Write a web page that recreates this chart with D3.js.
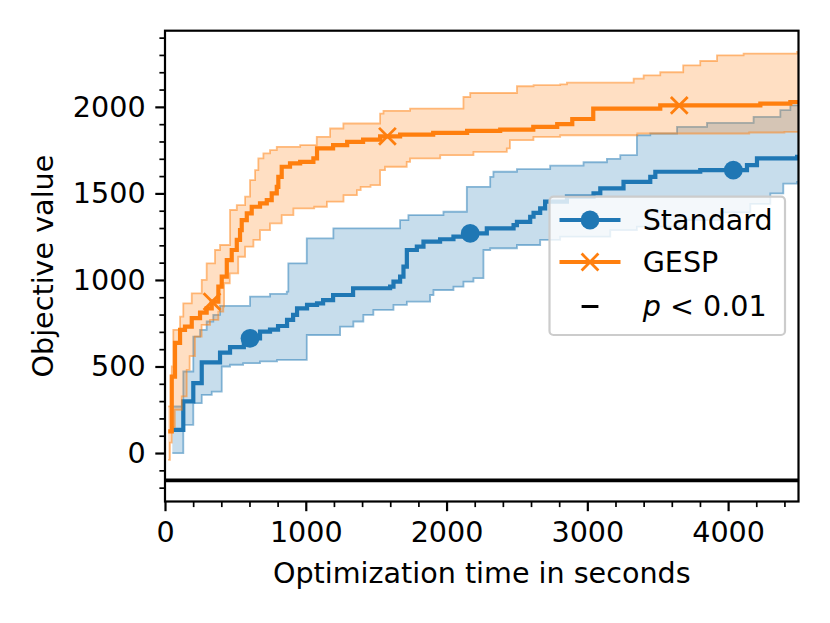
<!DOCTYPE html>
<html>
<head>
<meta charset="utf-8">
<script src="https://cdn.jsdelivr.net/npm/d3@7"></script>
<style>
    html, body { margin: 0; padding: 0; background: #fff; }
    svg text { font-family: 'DejaVu Sans', sans-serif; fill: #000; }
</style>
</head>
<body>
<svg id="chart" width="830" height="623"></svg>
<script>
// step points [seconds, objective value]
const standardMean = [
    [52, 134], [130, 298], [201, 404], [261, 524], [391, 580], [462, 612], [560, 640], [600, 663],
    [675, 702], [746, 713], [803, 734], [867, 769], [910, 798], [938, 836], [1009, 856], [1080, 865],
    [1123, 884], [1194, 913], [1336, 952], [1599, 961], [1623, 990], [1670, 1019], [1694, 1077],
    [1718, 1173], [1789, 1192], [1836, 1221], [1954, 1235], [2049, 1250], [2168, 1269], [2286, 1298],
    [2476, 1317], [2500, 1336], [2594, 1365], [2618, 1388], [2665, 1413], [2700, 1452], [2855, 1481],
    [3044, 1500], [3092, 1529], [3257, 1567], [3447, 1596], [3483, 1625], [3802, 1634], [4134, 1663],
    [4205, 1702], [4490, 1711]
]
const standardUpper = [
    [52, 269], [130, 471], [201, 673], [249, 711], [296, 760], [343, 798], [391, 850], [604, 904],
    [746, 919], [865, 933], [876, 1096], [1007, 1240], [1196, 1298], [1670, 1346], [1729, 1375],
    [1978, 1394], [2144, 1538], [2310, 1596], [2333, 1625], [2500, 1640], [2736, 1660], [2973, 1680],
    [3139, 1700], [3234, 1721], [3352, 1836], [3447, 1846], [3637, 1884], [3850, 1907], [4181, 1942],
    [4371, 1981], [4442, 2009]
]
const standardLower = [
    [52, 0], [130, 163], [201, 288], [261, 336], [332, 355], [403, 500], [462, 510], [555, 519],
    [675, 529], [796, 538], [1007, 682], [1244, 730], [1338, 760], [1409, 798], [1480, 827],
    [1623, 856], [1718, 875], [1883, 913], [1907, 942], [2049, 961], [2120, 990], [2191, 1010],
    [2262, 1173], [2310, 1183], [2500, 1202], [2665, 1231], [2807, 1250], [3163, 1288], [3352, 1308],
    [3684, 1346], [3945, 1390], [4158, 1440], [4300, 1500], [4392, 1557], [4490, 1567]
]
const gespMean = [
    [23, 125], [48, 442], [71, 636], [107, 712], [142, 730], [190, 779], [249, 811], [296, 836],
    [332, 875], [379, 961], [403, 1019], [439, 1115], [474, 1173], [510, 1231], [533, 1288],
    [545, 1346], [581, 1385], [616, 1423], [675, 1442], [723, 1461], [758, 1500], [794, 1538],
    [805, 1596], [829, 1654], [888, 1673], [960, 1682], [1054, 1702], [1080, 1760], [1194, 1779],
    [1294, 1798], [1407, 1811], [1528, 1830], [1670, 1840], [1905, 1850], [2146, 1861], [2381, 1869],
    [2616, 1884], [2786, 1900], [2893, 1930], [3042, 1990], [3518, 2009], [4229, 2019], [4442, 2028]
]
const gespUpper = [
    [23, 270], [48, 500], [59, 712], [107, 788], [130, 865], [190, 923], [261, 1000], [296, 1096],
    [355, 1173], [391, 1202], [462, 1404], [510, 1432], [569, 1481], [604, 1577], [640, 1634],
    [663, 1702], [699, 1731], [746, 1750], [794, 1769], [960, 1779], [1078, 1827], [1173, 1875],
    [1267, 1904], [1528, 1961], [1552, 1977], [1741, 1990], [2120, 2057], [2168, 2080], [2500, 2119],
    [2618, 2125], [2807, 2130], [2855, 2140], [3329, 2163], [3400, 2182], [3518, 2200], [3681, 2240],
    [3802, 2265], [3921, 2298], [4110, 2308], [4490, 2317]
]
const gespLower = [
    [23, -40], [35, 60], [48, 150], [70, 250], [119, 327], [154, 481], [175, 560], [213, 673],
    [260, 740], [320, 769], [379, 817], [414, 846], [420, 981], [460, 1038], [520, 1134], [569, 1192],
    [628, 1231], [675, 1288], [746, 1327], [829, 1375], [912, 1413], [1060, 1423], [1150, 1452],
    [1268, 1490], [1363, 1519], [1390, 1538], [1460, 1548], [1528, 1634], [1563, 1654], [1717, 1682],
    [1741, 1702], [1955, 1721], [2191, 1740], [2428, 1760], [2450, 1808], [2617, 1827], [2807, 1836],
    [3355, 1846], [4150, 1852], [4400, 1856]
]
const standardMarkers = [604, 2168, 4037]
const gespMarkers = [334, 1580, 3653]
const pSignificant = [[0, 4500]]
const sigLevel = -158

const xDomain = [0, 4500]
const yDomain = [-280, 2440]
const xMajor = [0, 1000, 2000, 3000, 4000]
const xMinor = [200, 400, 600, 800, 1200, 1400, 1600, 1800, 2200, 2400, 2600, 2800, 3200, 3400, 3600, 3800, 4200, 4400]
const yMajor = [0, 500, 1000, 1500, 2000]
const yMinor = [-200, -100, 100, 200, 300, 400, 600, 700, 800, 900, 1100, 1200, 1300, 1400, 1600, 1700, 1800, 1900, 2100, 2200, 2300, 2400]

const legendItems = [
    { label: 'Standard', color: '#1f77b4', marker: 'circle' },
    { label: 'GESP', color: '#ff7f0e', marker: 'x' },
    { label: 'p', rest: ' < 0.01', color: '#000', marker: 'dash' }
]

const fontSize = 28.6
const margin = { top: 30.7, right: 31.5, bottom: 121.5, left: 165 }
const width = 830
const height = 623

const svg = d3.select('#chart')
const x = d3.scaleLinear().domain(xDomain).range([margin.left, width - margin.right])
const y = d3.scaleLinear().domain(yDomain).range([height - margin.bottom, margin.top])

svg.append('defs').append('clipPath').attr('id', 'plot-clip')
    .append('rect')
    .attr('x', margin.left).attr('y', margin.top)
    .attr('width', width - margin.left - margin.right)
    .attr('height', height - margin.top - margin.bottom)

const plot = svg.append('g').attr('clip-path', 'url(#plot-clip)')

// step lookup
const bisect = d3.bisector((d) => d[0]).right
function valueAt(series, t) {
    const i = bisect(series, t) - 1
    return i < 0 ? null : series[i][1]
}
function extend(series) {
    return series.concat([[xDomain[1], series[series.length - 1][1]]])
}

function drawSeries(mean, lower, upper, color, markerTimes, marker) {
    const times = Array.from(new Set(lower.map((d) => d[0]).concat(upper.map((d) => d[0]), [xDomain[1]])))
        .sort((a, b) => a - b)
        .filter((t) => valueAt(lower, t) !== null && valueAt(upper, t) !== null)

    const area = d3.area()
        .curve(d3.curveStepAfter)
        .x((t) => x(t))
        .y0((t) => y(valueAt(lower, t)))
        .y1((t) => y(valueAt(upper, t)))

    plot.append('path')
        .datum(times)
        .attr('d', area)
        .attr('fill', color)
        .attr('fill-opacity', 0.25)
        .attr('stroke', 'none')

    const line = d3.line().curve(d3.curveStepAfter).x((d) => x(d[0])).y((d) => y(d[1]))

    ;[lower, upper].forEach((bound) => {
        plot.append('path')
            .datum(extend(bound))
            .attr('d', line)
            .attr('fill', 'none')
            .attr('stroke', color)
            .attr('stroke-opacity', 0.5)
            .attr('stroke-width', 1.8)
    })

    plot.append('path')
        .datum(extend(mean))
        .attr('d', line)
        .attr('fill', 'none')
        .attr('stroke', color)
        .attr('stroke-width', 4.2)

    const pts = markerTimes.map((t) => [t, valueAt(mean, t)])
    pts.forEach((p) => drawMarker(plot, marker, x(p[0]), y(p[1]), color))
}

function drawMarker(g, type, cx, cy, color) {
    if (type === 'circle') {
        g.append('circle').attr('cx', cx).attr('cy', cy).attr('r', 9.4).attr('fill', color)
    } else if (type === 'x') {
        const s = 8.4
        g.append('path')
            .attr('d', `M${cx - s},${cy - s}L${cx + s},${cy + s}M${cx - s},${cy + s}L${cx + s},${cy - s}`)
            .attr('stroke', color)
            .attr('stroke-width', 2.8)
            .attr('fill', 'none')
    } else {
        g.append('line')
            .attr('x1', cx - 8.4).attr('x2', cx + 8.4)
            .attr('y1', cy).attr('y2', cy)
            .attr('stroke', color)
            .attr('stroke-width', 3)
    }
}

drawSeries(standardMean, standardLower, standardUpper, '#1f77b4', standardMarkers, 'circle')
drawSeries(gespMean, gespLower, gespUpper, '#ff7f0e', gespMarkers, 'x')

// significance
pSignificant.forEach((iv) => {
    plot.append('line')
        .attr('x1', x(iv[0])).attr('x2', x(iv[1]))
        .attr('y1', y(sigLevel)).attr('y2', y(sigLevel))
        .attr('stroke', '#000')
        .attr('stroke-width', 3.6)
})

// axes
function styleAxis(g, major) {
    g.select('.domain').remove()
    g.selectAll('line').attr('stroke', '#000').attr('stroke-width', major ? 2.2 : 1.7)
    g.selectAll('text').style('font-size', fontSize + 'px').style('font-family', 'DejaVu Sans')
}

const xAxisG = svg.append('g')
    .attr('transform', `translate(0,${height - margin.bottom})`)
    .call(d3.axisBottom(x).tickValues(xMajor).tickSize(9.7).tickPadding(9.2).tickFormat(d3.format('d')))
styleAxis(xAxisG, true)
xAxisG.selectAll('text').attr('dy', '0.76em')

const xMinorG = svg.append('g')
    .attr('transform', `translate(0,${height - margin.bottom})`)
    .call(d3.axisBottom(x).tickValues(xMinor).tickSize(5.6).tickFormat(''))
styleAxis(xMinorG, false)

const yAxisG = svg.append('g')
    .attr('transform', `translate(${margin.left},0)`)
    .call(d3.axisLeft(y).tickValues(yMajor).tickSize(9.7).tickPadding(9.7).tickFormat(d3.format('d')))
styleAxis(yAxisG, true)

const yMinorG = svg.append('g')
    .attr('transform', `translate(${margin.left},0)`)
    .call(d3.axisLeft(y).tickValues(yMinor).tickSize(5.6).tickFormat(''))
styleAxis(yMinorG, false)

// frame
svg.append('rect')
    .attr('x', margin.left).attr('y', margin.top)
    .attr('width', width - margin.left - margin.right)
    .attr('height', height - margin.top - margin.bottom)
    .attr('fill', 'none')
    .attr('stroke', '#000')
    .attr('stroke-width', 2.2)

// labels
svg.append('text')
    .attr('x', (margin.left + width - margin.right) / 2)
    .attr('y', 583)
    .attr('text-anchor', 'middle')
    .style('font-size', fontSize + 'px')
    .text('Optimization time in seconds')

svg.append('text')
    .attr('transform', `translate(53,${(margin.top + height - margin.bottom) / 2}) rotate(-90)`)
    .attr('text-anchor', 'middle')
    .style('font-size', fontSize + 'px')
    .text('Objective value')

// legend
const legend = svg.append('g')
legend.append('rect')
    .attr('x', 549.5).attr('y', 196.7)
    .attr('width', 235.5).attr('height', 138.3)
    .attr('rx', 4)
    .attr('fill', '#fff')
    .attr('fill-opacity', 0.8)
    .attr('stroke', '#cccccc')
    .attr('stroke-width', 2.2)

const rowY = [220, 262, 306.5]
legendItems.forEach((item, i) => {
    const cy = rowY[i]
    if (item.marker !== 'dash') {
        legend.append('line')
            .attr('x1', 559.5).attr('x2', 620.5)
            .attr('y1', cy).attr('y2', cy)
            .attr('stroke', item.color)
            .attr('stroke-width', 4.2)
    }
    drawMarker(legend, item.marker, 590, cy, item.color)

    const t = legend.append('text')
        .attr('x', 642.7)
        .attr('y', cy + 9.7)
        .style('font-size', fontSize + 'px')
    if (item.rest) {
        t.append('tspan').style('font-style', 'italic').text(item.label)
        t.append('tspan').text(item.rest)
    } else {
        t.text(item.label)
    }
})
</script>
</body>
</html>
